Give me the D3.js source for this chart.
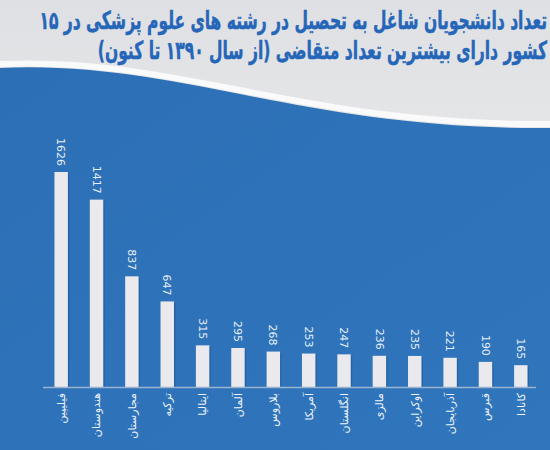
<!DOCTYPE html>
<html><head><meta charset="utf-8">
<script src="https://cdn.jsdelivr.net/npm/d3@7"></script>
<style>html,body{margin:0;padding:0;background:#e6e7ea;}svg{display:block;}</style>
</head><body>
<svg id="chart" width="550" height="450"></svg>
<script>
const titleLines = ["تعداد دانشجویان شاغل به تحصیل در رشته های علوم پزشکی در ۱۵", "کشور دارای بیشترین تعداد متقاضی  (از سال ۱۳۹۰ تا کنون)"];
const countries = ["فیلیپین","هندوستان","مجارستان","ترکیه","ایتالیا","آلمان","بلاروس","آمریکا","انگلستان","مالزی","اوکراین","آذربایجان","قبرس","کانادا"];
const values = [1626,1417,837,647,315,295,268,253,247,236,235,221,190,165];

const svg = d3.select("#chart");
const W = 550, H = 450;
const defs = svg.append("defs");
const gTop = defs.append("linearGradient").attr("id","gTop").attr("x1",0).attr("y1",0).attr("x2",0).attr("y2",1);
gTop.append("stop").attr("offset","0%").attr("stop-color","#dfe0e3");
gTop.append("stop").attr("offset","100%").attr("stop-color","#f3f3f4");
const gBlue = defs.append("linearGradient").attr("id","gBlue").attr("x1",0).attr("y1",0).attr("x2",1).attr("y2",1);
gBlue.append("stop").attr("offset","0%").attr("stop-color","#2c6fb6");
gBlue.append("stop").attr("offset","100%").attr("stop-color","#3076bc");

svg.append("rect").attr("width",W).attr("height",H).attr("fill","url(#gTop)");
const wave = "M0,68 C180,60 300,130 550,128 L550,450 L0,450 Z";
svg.append("path").attr("d","M0,64 C180,56 300,126 550,124").attr("fill","none").attr("stroke","#ffffff").attr("stroke-width",6).attr("opacity",0.8);
svg.append("path").attr("d",wave).attr("fill","url(#gBlue)");

// title
const title = svg.append("g");
const tg = titleLines.map((t,i)=>{
  const g = title.append("g");
  const txt = g.append("text").attr("x",0).attr("y",0)
    .attr("direction","rtl").style("direction","rtl").attr("text-anchor","start")
    .attr("font-family","DejaVu Sans").attr("font-weight","bold").attr("font-size",25)
    .attr("fill","#2566b8").attr("stroke","#2566b8").attr("stroke-width",0.5).text(t);
  return {g, txt, y: i===0?29:59};
});
const w0 = tg[0].txt.node().getComputedTextLength();
const sx = 508 / w0;
tg.forEach(o=>o.g.attr("transform",`translate(547,${o.y}) scale(${sx},1)`));

const x = d3.scaleBand().domain(countries).range([43.5,538.5]).paddingInner(0.62).paddingOuter(0.31);
const y = d3.scaleLinear().domain([0,1626]).range([387,172]);

const bars = svg.append("g");
bars.selectAll("rect.sh").data(values).join("rect").attr("class","sh")
  .attr("x",(d,i)=>x(countries[i])+1.5).attr("y",d=>y(d)+1.5)
  .attr("width",x.bandwidth()).attr("height",d=>y(0)-y(d)-1.5)
  .attr("fill","#1f5a98").attr("opacity",0.6);
bars.selectAll("rect.b").data(values).join("rect").attr("class","b")
  .attr("x",(d,i)=>x(countries[i])).attr("y",d=>y(d))
  .attr("width",x.bandwidth()).attr("height",d=>y(0)-y(d))
  .attr("fill","#e9e9ee");

svg.append("line").attr("x1",43).attr("x2",536).attr("y1",387.5).attr("y2",387.5)
  .attr("stroke","#9bb3cf").attr("stroke-width",1.5);

// value labels
svg.append("g").selectAll("text").data(values).join("text")
  .attr("transform",(d,i)=>`translate(${x(countries[i])+x.bandwidth()/2},${y(d)-6}) rotate(90)`)
  .attr("text-anchor","end").attr("dy","0.35em")
  .attr("font-family","DejaVu Sans").attr("font-size",11).attr("fill","#e8eef6")
  .text(d=>d);

// category labels
svg.append("g").selectAll("text").data(countries).join("text")
  .attr("transform",d=>`translate(${x(d)+x.bandwidth()/2},393) rotate(-90)`)
  .attr("text-anchor","end").attr("dy","0.35em")
  .attr("font-family","DejaVu Sans").attr("font-size",11).attr("fill","#f0f4fa")
  .text(d=>d);
</script>
</body></html>
